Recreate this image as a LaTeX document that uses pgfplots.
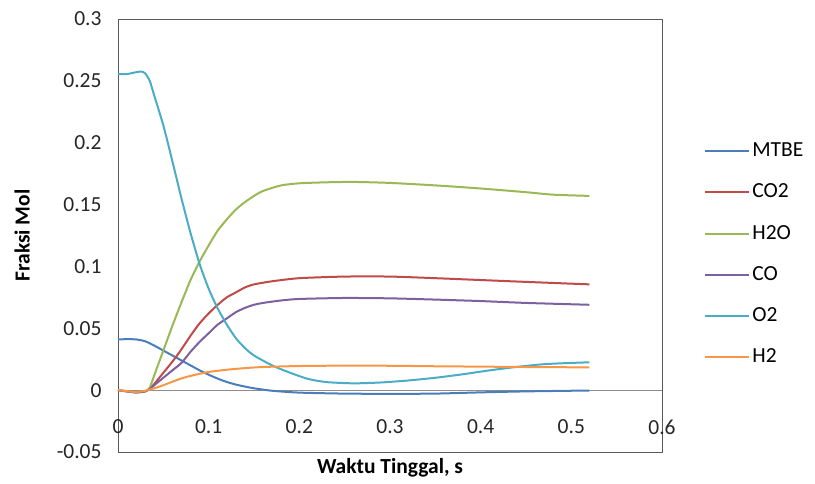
\documentclass[border=0pt]{standalone}
\usepackage{pgfplots}
\pgfplotsset{compat=1.18}
\usepackage{fontspec}
\setmainfont{Carlito}
\definecolor{cMTBE}{RGB}{74,126,187}
\definecolor{cCOtwo}{RGB}{190,75,72}
\definecolor{cHtwoO}{RGB}{152,185,84}
\definecolor{cCO}{RGB}{125,96,160}
\definecolor{cOtwo}{RGB}{75,172,198}
\definecolor{cHtwo}{RGB}{247,150,70}
\begin{document}
\begin{tikzpicture}
\path[use as bounding box] (-118bp,-32bp) rectangle (697bp,452bp);
\begin{axis}[
  at={(0,0)}, anchor=south west,
  scale only axis, width=544bp, height=433bp,
  xmin=0, xmax=0.6, ymin=-0.05, ymax=0.3,
  xtick={0,0.1,0.2,0.3,0.4,0.5,0.6}, ytick={-0.05,0,0.05,0.1,0.15,0.2,0.25,0.3},
  xticklabels={0,0.1,0.2,0.3,0.4,0.5,0.6},
  yticklabels={-0.05,0,0.05,0.1,0.15,0.2,0.25,0.3},
  major tick length=0pt,
  axis line style={black!65, line width=0.9bp},
  font=\fontsize{21.5bp}{25bp}\selectfont,
  tick label style={font=\fontsize{21.5bp}{25bp}\selectfont, text=black!85},
  /pgf/number format/assume math mode=true,
  xticklabel style={anchor=center, yshift=25bp},
  yticklabel style={xshift=-13bp},
  xlabel={\textbf{Waktu Tinggal, s}},
  ylabel={\textbf{Fraksi Mol}},
  xlabel style={at={(axis description cs:0.5,-0.037)}, anchor=center},
  ylabel style={at={(axis description cs:-0.176,0.5)}, anchor=center},
  legend style={draw=none, fill=none, at={(axis description cs:1.0775,0.457)}, anchor=west,
    font=\fontsize{21.5bp}{25bp}\selectfont, row sep=18.2bp, inner sep=0pt,
    nodes={inner sep=2bp, text height=15bp, text depth=4bp}},
  legend cell align=left,
  legend image code/.code={\draw[#1, line width=2bp] (0bp,0bp) -- (44bp,0bp);},
  every axis plot/.append style={line width=2bp, smooth, tension=0.4},
]
\addplot[black!45, line width=1bp, sharp plot, forget plot] coordinates {(0,0) (0.6,0)};
\addplot[cMTBE] coordinates {
(0,0.041) (0.01,0.0412) (0.02,0.041) (0.03,0.0395) (0.04,0.036) (0.05,0.032) (0.06,0.028)
(0.07,0.024) (0.08,0.020) (0.09,0.016) (0.10,0.0125) (0.11,0.0093) (0.12,0.0066) (0.13,0.0045)
(0.14,0.0029) (0.15,0.0015) (0.17,-0.0005) (0.20,-0.002) (0.25,-0.0028) (0.30,-0.003)
(0.35,-0.0028) (0.40,-0.0018) (0.45,-0.001) (0.52,-0.0003)};
\addlegendentry{MTBE}
\addplot[cCOtwo] coordinates {
(0,0) (0.01,-0.001) (0.02,-0.0018) (0.03,-0.001) (0.035,0.001) (0.04,0.005) (0.05,0.014)
(0.06,0.023) (0.07,0.033) (0.08,0.044) (0.09,0.054) (0.10,0.062) (0.11,0.069) (0.12,0.075)
(0.13,0.079) (0.14,0.083) (0.15,0.0855) (0.17,0.088) (0.20,0.0905) (0.25,0.0918) (0.30,0.0918)
(0.35,0.0905) (0.40,0.089) (0.45,0.0875) (0.52,0.0855)};
\addlegendentry{CO2}
\addplot[cHtwoO] coordinates {
(0,0) (0.01,-0.001) (0.02,-0.0018) (0.03,-0.001) (0.035,0.002) (0.04,0.012) (0.05,0.032)
(0.06,0.052) (0.07,0.071) (0.08,0.089) (0.09,0.104) (0.10,0.117) (0.11,0.129) (0.12,0.138)
(0.13,0.146) (0.14,0.152) (0.15,0.157) (0.16,0.161) (0.18,0.1655) (0.20,0.1672) (0.23,0.168)
(0.26,0.1683) (0.30,0.1675) (0.35,0.1655) (0.40,0.163) (0.45,0.160) (0.48,0.158) (0.52,0.157)};
\addlegendentry{H2O}
\addplot[cCO] coordinates {
(0,0) (0.01,-0.001) (0.02,-0.0018) (0.03,-0.001) (0.035,0.001) (0.04,0.004) (0.05,0.010)
(0.06,0.016) (0.07,0.022) (0.08,0.031) (0.09,0.039) (0.10,0.046) (0.11,0.053) (0.12,0.058)
(0.13,0.063) (0.14,0.0665) (0.15,0.069) (0.16,0.0705) (0.18,0.0725) (0.20,0.0737) (0.25,0.0745)
(0.30,0.0742) (0.35,0.0732) (0.40,0.072) (0.45,0.0705) (0.52,0.069)};
\addlegendentry{CO}
\addplot[cOtwo] coordinates {
(0,0.2555) (0.01,0.2555) (0.02,0.257) (0.026,0.2575) (0.03,0.256) (0.035,0.250) (0.04,0.238)
(0.05,0.214) (0.06,0.185) (0.07,0.155) (0.08,0.127) (0.09,0.102) (0.10,0.082) (0.11,0.066)
(0.12,0.053) (0.13,0.042) (0.14,0.034) (0.15,0.028) (0.17,0.020) (0.19,0.014) (0.21,0.009)
(0.23,0.0065) (0.26,0.0055) (0.29,0.0062) (0.32,0.0078) (0.35,0.010) (0.38,0.0128) (0.41,0.016)
(0.44,0.0188) (0.47,0.021) (0.50,0.022) (0.52,0.0225)};
\addlegendentry{O2}
\addplot[cHtwo] coordinates {
(0,0) (0.01,-0.0008) (0.02,-0.0015) (0.03,-0.0005) (0.04,0.0015) (0.05,0.004) (0.06,0.0068)
(0.07,0.0095) (0.08,0.0115) (0.09,0.0132) (0.10,0.0147) (0.12,0.0165) (0.14,0.0178) (0.16,0.0187)
(0.20,0.0195) (0.25,0.0198) (0.30,0.0197) (0.35,0.0193) (0.40,0.019) (0.45,0.0187) (0.52,0.0184)};
\addlegendentry{H2}
\end{axis}
\end{tikzpicture}
\end{document}
